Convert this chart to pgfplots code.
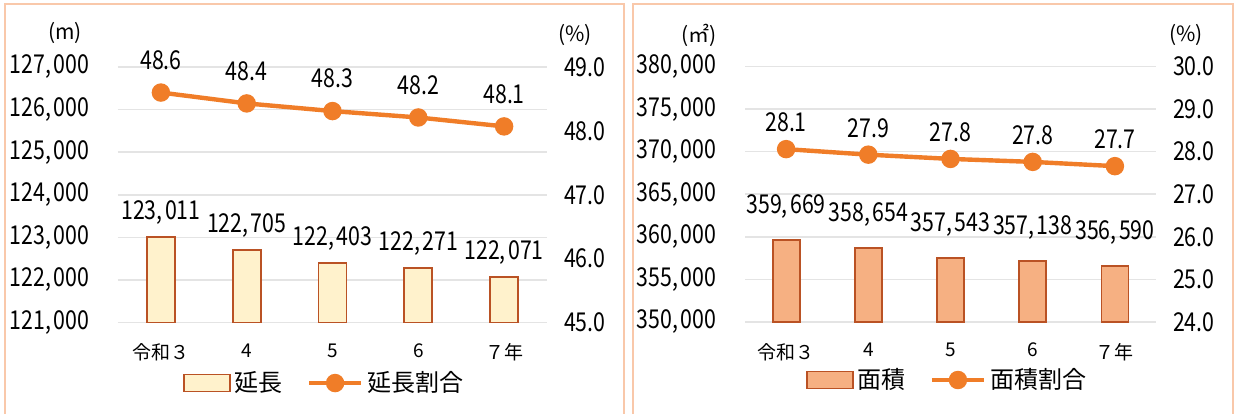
\documentclass[border=0pt]{standalone}
\usepackage{fontspec}
\setmainfont{Noto Sans CJK JP}
\newfontfamily\numfont[FakeStretch=0.82]{Noto Sans CJK JP}
\usepackage{pgfplots}
\pgfplotsset{compat=1.18}
\definecolor{lineor}{RGB}{240,125,40}
\definecolor{barA}{RGB}{255,242,204}
\definecolor{barB}{RGB}{246,176,130}
\definecolor{barE}{RGB}{186,82,36}
\definecolor{frameC}{RGB}{249,200,170}
\definecolor{gridC}{RGB}{228,228,228}
\newcommand\nf{\numfont\fontsize{13}{15}\selectfont}
\pgfplotsset{
  base/.style={
    scale only axis, height=127.75pt, anchor=south west,
    xmin=-0.5, xmax=4.5, xtick={0,...,4},
    axis line style={draw=none}, major tick length=0pt,
    scaled ticks=false,
    tick label style={font=\nf},
    /pgf/number format/assume math mode=true,
    clip=false,
  },
  barax/.style={
    base, ymajorgrids, grid style={gridC, line width=0.8pt},
    /pgf/number format/.cd, fixed, precision=0, 1000 sep={,\kern1.2pt}, assume math mode=true, /pgfplots/.cd,
    yticklabel style={xshift=-11pt},
    xticklabels={令和３,4,5,6,７年},
    xticklabel style={font=\fontsize{9.5}{11}\selectfont, yshift=-7pt},
    ybar, bar width=14pt,
    nodes near coords,
    nodes near coords style={font=\nf, text=black, yshift=2.5pt},
  },
  lineax/.style={
    base, axis y line*=right, axis x line=none,
    /pgf/number format/.cd, fixed, fixed zerofill, precision=1, assume math mode=true, /pgfplots/.cd,
    yticklabel style={xshift=5pt},
    legend columns=2,
    legend style={draw=none, fill=none, font=\fontsize{12}{14}\selectfont, anchor=center,
      /tikz/every even column/.append style={column sep=10pt}},
  },
  barleg/.style={legend image code/.code={\draw[##1] (0pt,-4.25pt) rectangle (23pt,4.25pt);}},
  lineleg/.style={legend image code/.code={\draw[mark repeat=2,mark phase=2,##1] plot coordinates {(0pt,0pt) (13pt,0pt) (26pt,0pt)};}},
}
\begin{document}
\begin{tikzpicture}
\useasboundingbox (0,0) rectangle (617pt,207pt);
\fill[white] (0,0) rectangle (617pt,207pt);
\draw[frameC, line width=1pt] (2.5pt,0) -- (2.5pt,205pt) -- (312pt,205pt) -- (312pt,0);
\draw[frameC, line width=1pt] (316.5pt,0) -- (316.5pt,205pt) -- (616.5pt,205pt) -- (616.5pt,0);
% ---------- left panel ----------
\begin{axis}[barax, at={(59pt,45.75pt)}, width=214.5pt,
  ymin=121000, ymax=127000, ytick distance=1000]
\addplot[draw=barE, fill=barA, line width=0.9pt] coordinates {(0,123011) (1,122705) (2,122403) (3,122271) (4,122071)};
\end{axis}
\begin{axis}[lineax, at={(59pt,45.75pt)}, width=214.5pt,
  ymin=45, ymax=49, ytick distance=1,
  legend style={at={(0.483,-0.237)}}]
\addlegendimage{barleg, draw=barE, fill=barA, line width=0.9pt}
\addlegendentry{延長}
\addplot[lineor, line width=2.2pt, mark=*, mark size=3.5pt, mark options={fill=lineor, draw=lineor},
  lineleg, nodes near coords,
  nodes near coords style={font=\nf, text=black, yshift=7pt}]
  coordinates {(0,48.6) (1,48.43) (2,48.31) (3,48.21) (4,48.07)};
\addlegendentry{延長割合}
\end{axis}
\node[font=\fontsize{10.5}{12}\selectfont] at (32.5pt,190.5pt) {(m)};
\node[font=\fontsize{10.5}{12}\selectfont] at (287.5pt,189.5pt) {(\%)};
% ---------- right panel ----------
\begin{axis}[barax, at={(372.5pt,46pt)}, width=205.5pt,
  ymin=350000, ymax=380000, ytick distance=5000, bar width=13.5pt,
  nodes near coords style={yshift=4.5pt}]
\addplot[draw=barE, fill=barB, line width=0.9pt] coordinates {(0,359669) (1,358654) (2,357543) (3,357138) (4,356590)};
\end{axis}
\begin{axis}[lineax, at={(372.5pt,46pt)}, width=205.5pt,
  ymin=24, ymax=30, ytick distance=1,
  legend style={at={(0.494,-0.227)}}]
\addlegendimage{barleg, draw=barE, fill=barB, line width=0.9pt}
\addlegendentry{面積}
\addplot[lineor, line width=2.2pt, mark=*, mark size=3.5pt, mark options={fill=lineor, draw=lineor},
  lineleg, nodes near coords,
  nodes near coords style={font=\nf, text=black, yshift=4pt}]
  coordinates {(0,28.06) (1,27.93) (2,27.83) (3,27.76) (4,27.66)};
\addlegendentry{面積割合}
\end{axis}
\node[font=\fontsize{10.5}{12}\selectfont] at (349.5pt,189.5pt) {(㎡)};
\node[font=\fontsize{10.5}{12}\selectfont] at (593pt,189.5pt) {(\%)};
\end{tikzpicture}
\end{document}
